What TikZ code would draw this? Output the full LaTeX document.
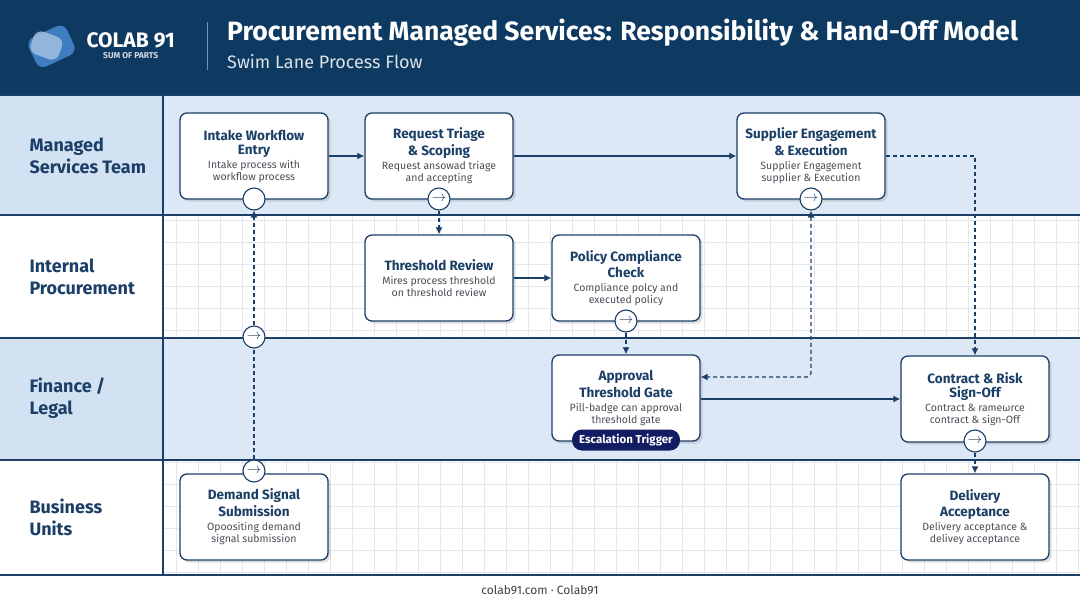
\documentclass[tikz,border=0pt]{standalone}
\usepackage{fontspec}
\setmainfont{Fira Sans}
\usetikzlibrary{arrows.meta, positioning, shadows}
\definecolor{navy}{HTML}{0E3A62}
\definecolor{laneblue}{HTML}{DCE8F6}
\definecolor{labelblue}{HTML}{D3E2F3}
\definecolor{inkblue}{HTML}{1B3F66}
\definecolor{pillnavy}{HTML}{121C63}
\definecolor{gridgray}{HTML}{E4E8EE}
\definecolor{desc}{HTML}{4A4F57}
\definecolor{logoblue}{HTML}{3F7CC0}
\newcommand{\headfont}{\fontsize{13.5}{16.5}\selectfont\bfseries\color{inkblue}}
\newcommand{\descfont}{\fontsize{10.5}{13}\selectfont\mdseries\color{desc}}
\tikzset{
  stepbox/.style={draw=inkblue, line width=1.3pt, rounded corners=7pt, fill=white,
    minimum width=148pt, minimum height=86pt, align=center, drop shadow={opacity=0.25}},
  lanelabel/.style={anchor=west, align=left, text=inkblue, font=\fontsize{18}{22}\selectfont\bfseries},
  port/.style={circle, draw=inkblue, line width=1.1pt, fill=white, minimum size=22pt, inner sep=0pt,
    font=\Large, text=inkblue},
  flow/.style={draw=inkblue, line width=1.2pt, -{Latex[length=7pt,width=7pt]}},
  hand/.style={flow, dashed, dash pattern=on 4pt off 3pt},
}
\begin{document}
\begin{tikzpicture}[x=1pt, y=-1pt]
\useasboundingbox (0,0) rectangle (1080,603);
% header
\fill[navy] (0,0) rectangle (1080,95);
\fill[white] (0,95) rectangle (1080,603);
% lanes
\fill[laneblue] (0,95) rectangle (1080,215);
\fill[laneblue] (0,338) rectangle (1080,460);
\fill[labelblue] (0,95) rectangle (163,215);
\fill[labelblue] (0,338) rectangle (163,460);
\foreach \ya/\yb in {215/338, 460/575}
  \draw[gridgray, line width=0.5pt] (163,\ya) grid[step=22pt] (1080,\yb);
\foreach \yy in {95,215,338,460,575}
  \draw[inkblue, line width=1.3pt] (0,\yy) -- (1080,\yy);
\draw[inkblue, line width=1.3pt] (163,95) -- (163,575);
% logo and title
\fill[logoblue, rotate around={25:(52,45)}, rounded corners=8pt] (30,30) rectangle (72,62);
\fill[white!55!logoblue, opacity=0.8, rotate around={-20:(48,44)}, rounded corners=8pt] (32,34) rectangle (62,58);
\node[anchor=west, text=white, font=\fontsize{21}{22}\selectfont\bfseries] (brand) at (83,40) {COLAB 91};
\node[anchor=north, text=white!80!navy, font=\fontsize{8.5}{9}\selectfont\bfseries, inner sep=1pt] (tagline) at (brand.south) {SUM OF PARTS};
\draw[white!45!navy, line width=0.8pt] (207,22) -- (207,70);
\node[anchor=west, text=white, font=\fontsize{26.5}{28}\selectfont\bfseries, inner sep=0pt] (title) at (227,33) {Procurement Managed Services: Responsibility \& Hand-Off Model};
\node[anchor=west, text=white!85!navy, font=\fontsize{18}{20}\selectfont, inner sep=0pt] (subtitle) at (227,62) {Swim Lane Process Flow};
% lane labels
\node[lanelabel] (l1) at (26,156) {Managed\\Services Team};
\node[lanelabel] (l2) at (26,277) {Internal\\Procurement};
\node[lanelabel] (l3) at (26,398) {Finance /\\Legal};
\node[lanelabel] (l4) at (26,517) {Business\\Units};
% steps
\node[stepbox] (intake) at (254,156) {\headfont Intake Workflow\\[2pt]\headfont Entry\\[2pt]\descfont Intake process with\\\descfont workflow process};
\node[stepbox] (triage) at (439,156) {\headfont Request Triage\\[2pt]\headfont \& Scoping\\[2pt]\descfont Request ansowad triage\\\descfont and accepting};
\node[stepbox] (supplier) at (811,156) {\headfont Supplier Engagement\\[2pt]\headfont \& Execution\\[2pt]\descfont Supplier Engagement\\\descfont supplier \& Execution};
\node[stepbox] (review) at (439,278) {\headfont Threshold Review\\[2pt]\descfont Mires process threshold\\\descfont on threshold review};
\node[stepbox] (policy) at (626,278) {\headfont Policy Compliance\\[2pt]\headfont Check\\[2pt]\descfont Compliance polcy and\\\descfont executed policy};
\node[stepbox] (approval) at (626,398) {\headfont Approval\\[2pt]\headfont Threshold Gate\\[2pt]\descfont Pill-badge can approval\\\descfont threshold gate};
\node[stepbox] (contract) at (975,399) {\headfont Contract \& Risk\\[2pt]\headfont Sign-Off\\[2pt]\descfont Contract \& rameωrce\\\descfont contract \& sign-Off};
\node[stepbox] (demand) at (254,517) {\headfont Demand Signal\\[2pt]\headfont Submission\\[2pt]\descfont Opoositing demand\\\descfont signal submission};
\node[stepbox] (delivery) at (975,517) {\headfont Delivery\\[2pt]\headfont Acceptance\\[2pt]\descfont Delivery acceptance \&\\\descfont delivey acceptance};
\node[fill=pillnavy, text=white, rounded corners=10pt, minimum width=108pt, minimum height=21pt, inner sep=2pt,
  font=\fontsize{11.5}{12}\selectfont\bfseries] (escalation) at (626,440) {Escalation Trigger};
% ports
\node[port] (pIntake) at (254,199) {};
\node[port] (pTriage) at (439,199) {$\rightarrow$};
\node[port] (pSupplier) at (811,199) {$\rightarrow$};
\node[port] (pPolicy) at (626,321) {$\rightarrow$};
\node[port] (pContract) at (975,441) {$\rightarrow$};
\node[port] (pMid) at (254,337) {$\rightarrow$};
\node[port] (pDemand) at (254,471) {$\rightarrow$};
\coordinate (cBend) at (811,377);
\coordinate (cCorner) at (975,156);
% connectors
\draw[flow] (intake) -- (triage);
\draw[flow] (triage) -- (supplier);
\draw[flow] (approval.east |- contract) -- (contract);
\draw[flow] (review) -- (policy);
\draw[hand] (supplier.east) -- (cCorner) -- (contract.north);
\draw[hand] (pTriage) -- (review.north);
\draw[hand] (pPolicy) -- (approval.north);
\draw[hand, {Latex[length=7pt,width=7pt]}-{Latex[length=7pt,width=7pt]}, rounded corners=4pt] (pSupplier) -- (cBend) -- (approval.east |- cBend);
\draw[hand] (pContract) -- (delivery.north);
\draw[hand, -] (pDemand) -- (pMid);
\draw[hand] (pMid) -- (pIntake);
% footer
\node[text=darkgray, font=\fontsize{12}{13}\selectfont] (footer) at (540,590) {colab91.com · Colab91};
\end{tikzpicture}
\end{document}
